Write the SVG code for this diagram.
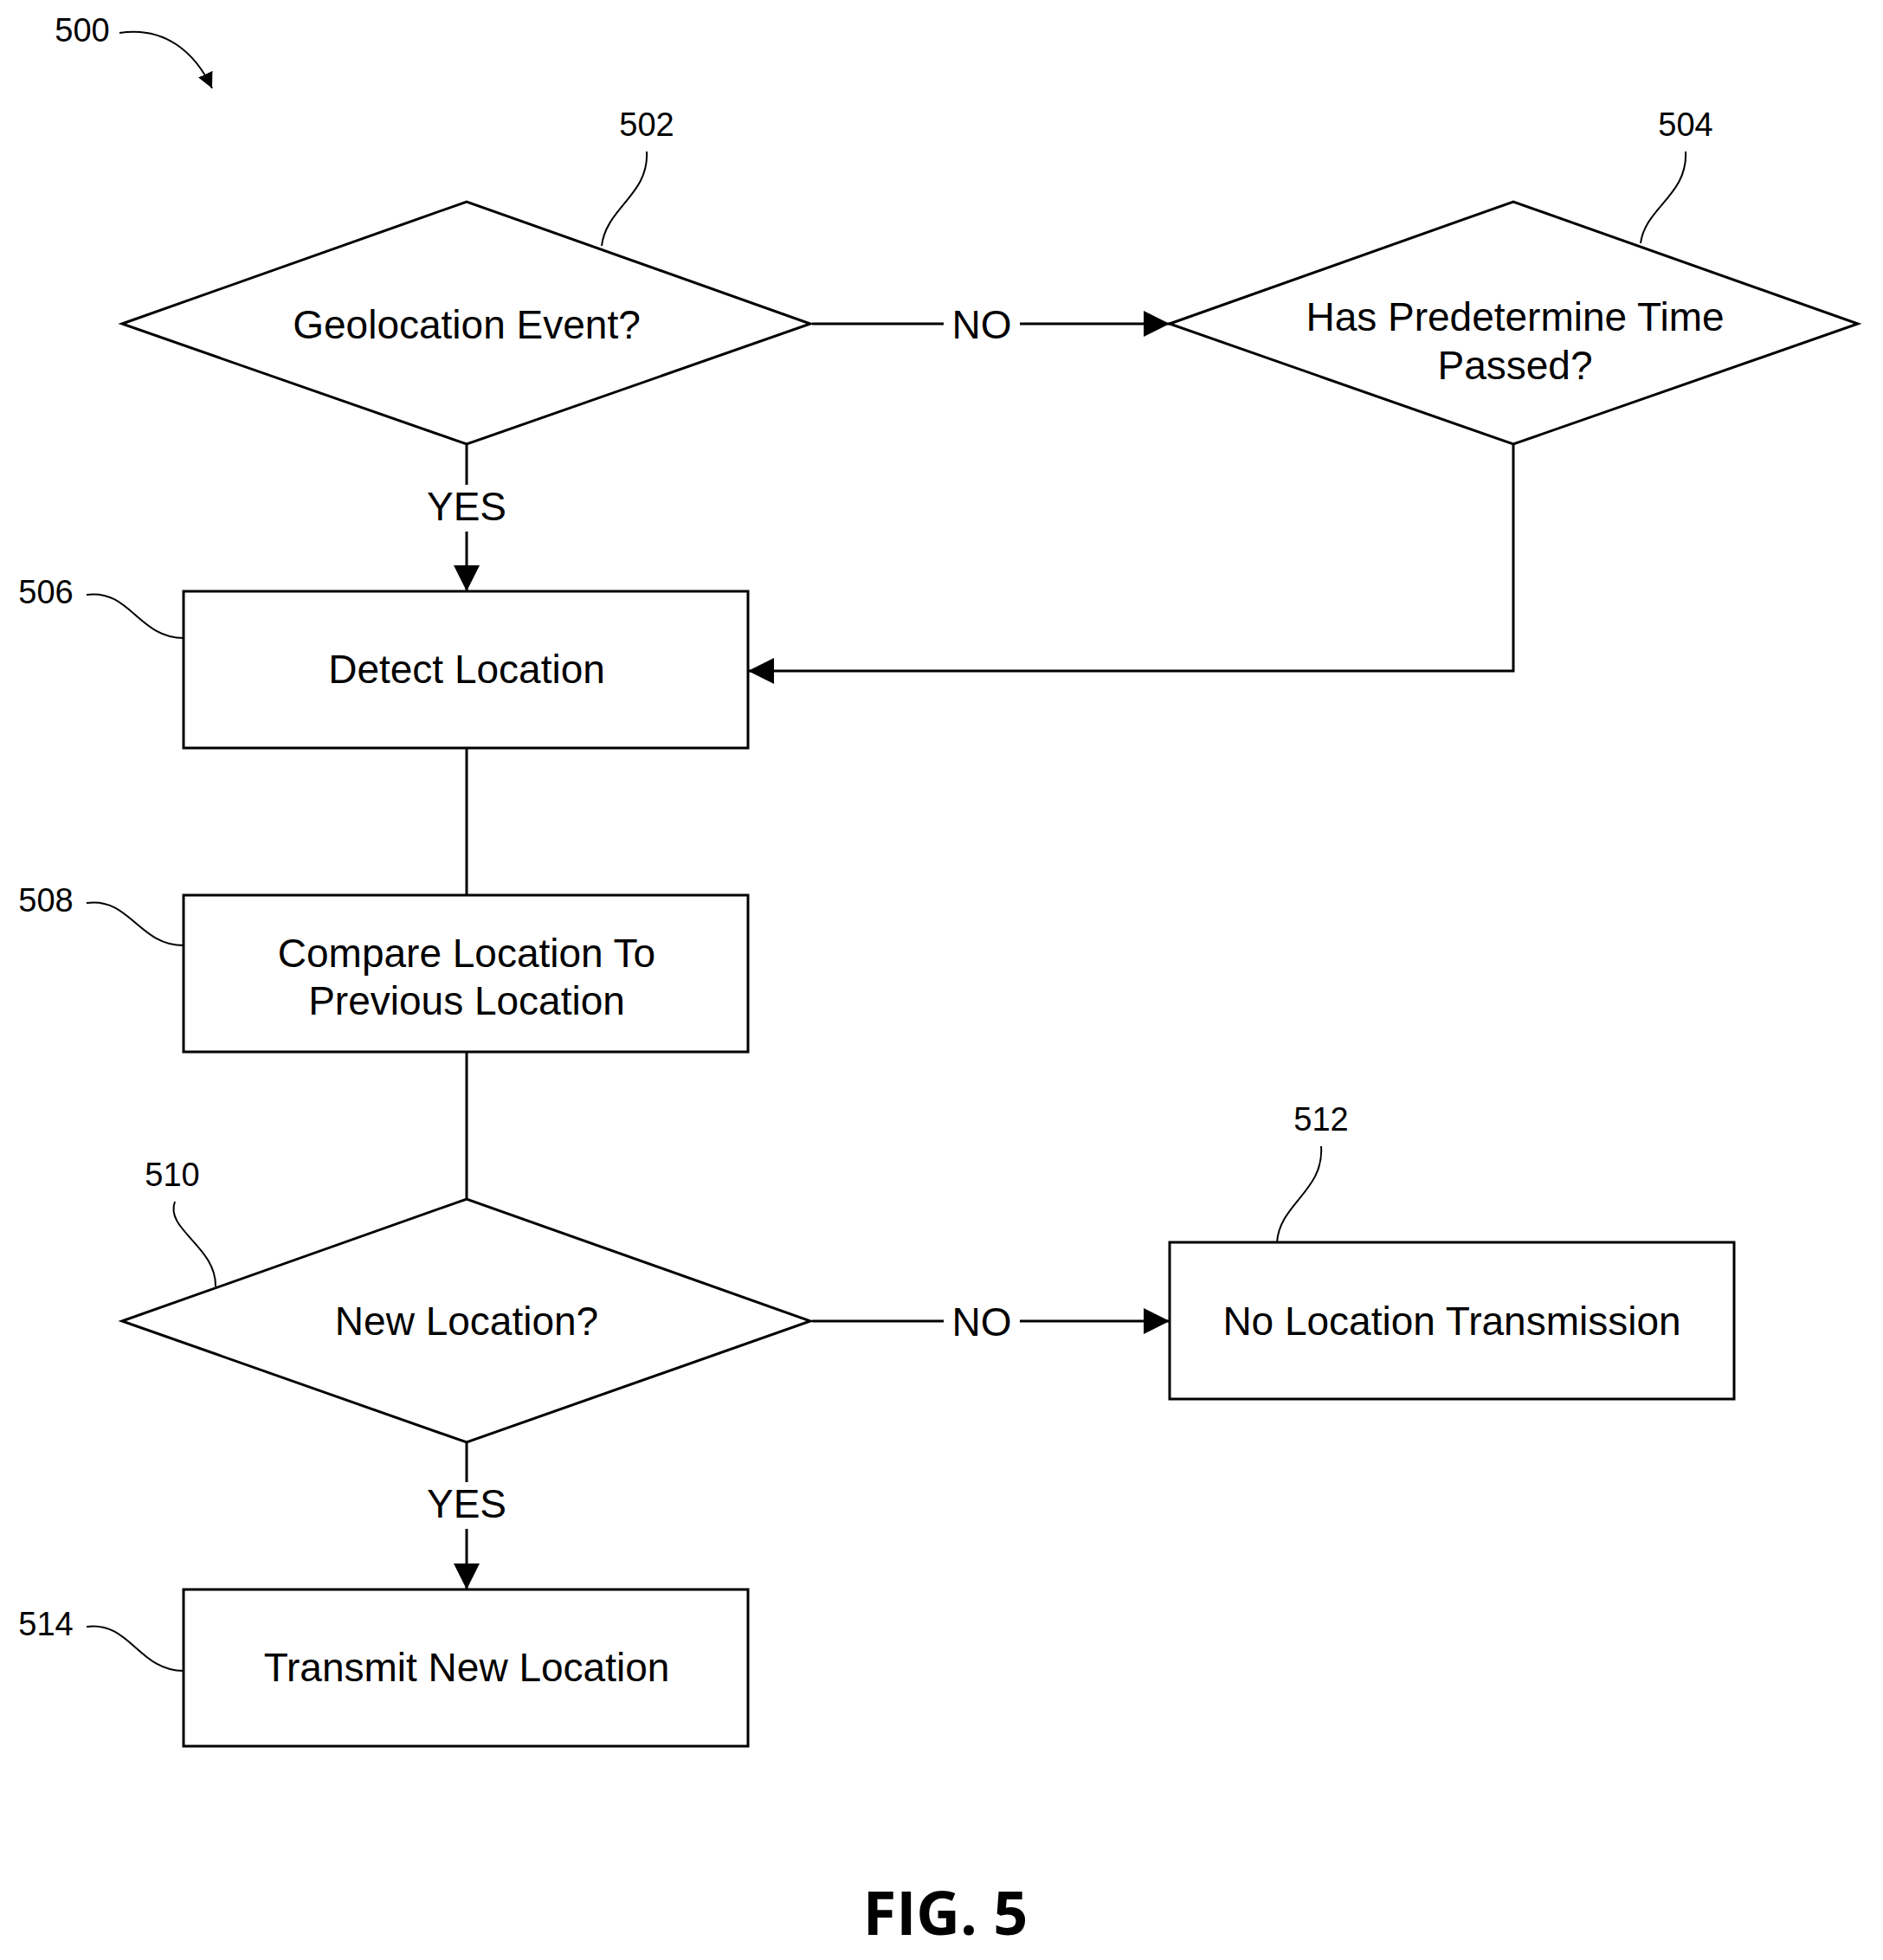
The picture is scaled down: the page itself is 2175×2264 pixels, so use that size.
<svg xmlns="http://www.w3.org/2000/svg" width="2175" height="2264" viewBox="0 0 2175 2264">
<style>
.s{fill:#fff;stroke:#000;stroke-width:3}
.l{fill:none;stroke:#000;stroke-width:3}
.c{fill:none;stroke:#000;stroke-width:2}
.t{font-family:"Liberation Sans",Arial,sans-serif;font-size:46px;text-anchor:middle;fill:#000}
.n{font-family:"Liberation Sans",Arial,sans-serif;font-size:38px;text-anchor:middle;fill:#000}
.f{font-family:"Open Sans","Liberation Sans",sans-serif;font-size:70px;font-weight:bold;text-anchor:middle;fill:#000}
</style>
<defs>
<marker id="a" markerWidth="18" markerHeight="18" refX="18" refY="9" orient="auto" markerUnits="userSpaceOnUse" viewBox="0 0 18 18"><path d="M0,0 L18,9 L0,18 Z" fill="#000"/></marker>
<marker id="b" markerWidth="30" markerHeight="30" refX="30" refY="15" orient="auto" markerUnits="userSpaceOnUse" viewBox="0 0 30 30"><path d="M0,0 L30,15 L0,30 Z" fill="#000"/></marker>
</defs>
<g id="connectors">
<line class="l" x1="938" y1="374" x2="1090" y2="374"/>
<line class="l" x1="1178" y1="374" x2="1351" y2="374" marker-end="url(#b)"/>
<line class="l" x1="539" y1="514" x2="539" y2="560"/>
<line class="l" x1="539" y1="614" x2="539" y2="683" marker-end="url(#b)"/>
<polyline class="l" points="1748,514 1748,775 864,775" marker-end="url(#b)"/>
<line class="l" x1="539" y1="864" x2="539" y2="1034"/>
<line class="l" x1="539" y1="1215" x2="539" y2="1385"/>
<line class="l" x1="938" y1="1526" x2="1090" y2="1526"/>
<line class="l" x1="1178" y1="1526" x2="1351" y2="1526" marker-end="url(#b)"/>
<line class="l" x1="539" y1="1666" x2="539" y2="1712"/>
<line class="l" x1="539" y1="1766" x2="539" y2="1836" marker-end="url(#b)"/>
<text class="t" x="1134" y="391">NO</text>
<text class="t" x="539" y="601">YES</text>
<text class="t" x="1134" y="1543">NO</text>
<text class="t" x="539" y="1753">YES</text>
</g>
<g id="n500">
<text class="n" x="95" y="48">500</text>
<path class="c" d="M138,38 C190,30 225,60 245,102" marker-end="url(#a)"/>
</g>
<g id="n502">
<polygon class="s" points="141,374 539,233 936,374 539,513"/>
<text class="t" x="539" y="391">Geolocation Event?</text>
<text class="n" x="747" y="157">502</text>
<path class="c" d="M747,175 C750,225 700,240 695,284"/>
</g>
<g id="n504">
<polygon class="s" points="1351,374 1748,233 2146,374 1748,513"/>
<text class="t" x="1750" y="382">Has Predetermine Time</text>
<text class="t" x="1750" y="438">Passed?</text>
<text class="n" x="1947" y="157">504</text>
<path class="c" d="M1947,175 C1950,225 1900,240 1895,281"/>
</g>
<g id="n506">
<rect class="s" x="212" y="683" width="652" height="181"/>
<text class="t" x="539" y="789">Detect Location</text>
<text class="n" x="53" y="697">506</text>
<path class="c" d="M100,687 C150,680 160,737 212,737"/>
</g>
<g id="n508">
<rect class="s" x="212" y="1034" width="652" height="181"/>
<text class="t" x="539" y="1117">Compare Location To</text>
<text class="t" x="539" y="1172">Previous Location</text>
<text class="n" x="53" y="1053">508</text>
<path class="c" d="M100,1043 C150,1036 160,1092 212,1092"/>
</g>
<g id="n510">
<polygon class="s" points="141,1526 539,1385 936,1526 539,1666"/>
<text class="t" x="539" y="1542">New Location?</text>
<text class="n" x="199" y="1370">510</text>
<path class="c" d="M202,1388 C190,1420 250,1440 249,1486"/>
</g>
<g id="n512">
<rect class="s" x="1351" y="1435" width="652" height="181"/>
<text class="t" x="1677" y="1542">No Location Transmission</text>
<text class="n" x="1526" y="1306">512</text>
<path class="c" d="M1526,1324 C1530,1375 1478,1390 1475,1435"/>
</g>
<g id="n514">
<rect class="s" x="212" y="1836" width="652" height="181"/>
<text class="t" x="539" y="1942">Transmit New Location</text>
<text class="n" x="53" y="1889">514</text>
<path class="c" d="M100,1879 C150,1872 160,1930 212,1930"/>
</g>
<text class="f" x="1092" y="2235">FIG. 5</text>
</svg>
